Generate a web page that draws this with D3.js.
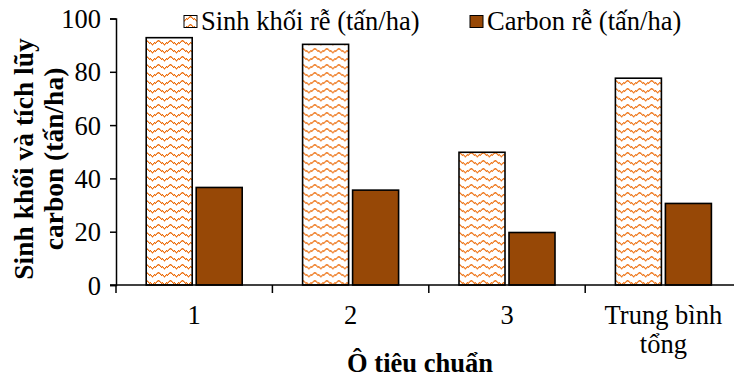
<!DOCTYPE html>
<html>
<head>
<meta charset="utf-8">
<script src="https://cdn.jsdelivr.net/npm/d3@7"></script>
<style>
  html, body { margin: 0; padding: 0; background: #fff; }
  svg { display: block; font-family: "Liberation Serif", "Times New Roman", serif; }
</style>
</head>
<body>
<svg id="chart" width="734" height="380"></svg>
<script>
// Plots (categories) and the two measured series
const categories = ["1", "2", "3", "Trung bình tổng"];
const seriesNames = ["Sinh khối rễ (tấn/ha)", "Carbon rễ (tấn/ha)"];
const biomass = [92.8, 90.3, 49.8, 77.6];
const carbon = [36.6, 35.6, 19.7, 30.6];
const yTicks = [0, 20, 40, 60, 80, 100];

const FONT = 26.5;
const svg = d3.select("#chart");
const plotLeft = 116, plotTop = 18.5, plotBottom = 285;
const step = 156.4;

const x0 = d3.scaleBand().domain(categories)
  .range([plotLeft, plotLeft + step * categories.length]).padding(0);
const x1 = d3.scaleBand().domain(seriesNames)
  .range([30.2, step - 30.2]).paddingInner(0.08).paddingOuter(0);
const y = d3.scaleLinear().domain([0, 100]).range([plotBottom, plotTop]);

// Dotted orange zig-zag fill for the biomass bars
const defs = svg.append("defs");
const pat = defs.append("pattern").attr("id", "zigzag")
  .attr("patternUnits", "userSpaceOnUse").attr("width", 12).attr("height", 8);
pat.append("rect").attr("width", 12).attr("height", 8).attr("fill", "#fff");
const zz = [];
for (let i = 0; i < 12; i++) {
  const yy = Math.floor(Math.abs(i - 6) / 1.5);
  for (let t = 0; t < 2; t++) {
    const py = (yy + t) % 8;
    zz.push({ x: i, y: py, dark: (i + py) % 2 === 0 });
  }
}
pat.selectAll("rect.px").data(zz).join("rect").attr("class", "px")
  .attr("x", d => d.x).attr("y", d => d.y).attr("width", 1).attr("height", 1)
  .attr("fill", d => d.dark ? "#EC6E0C" : "#F6B584");

const fills = ["url(#zigzag)", "#974806"];

// Bars
const groups = svg.append("g").selectAll("g")
  .data(categories.map((c, i) => ({ c, vals: [biomass[i], carbon[i]] })))
  .join("g").attr("transform", d => `translate(${x0(d.c)},0)`);
groups.selectAll("rect")
  .data(d => d.vals.map((v, k) => ({ v, k })))
  .join("rect")
  .attr("x", d => x1(seriesNames[d.k]))
  .attr("width", x1.bandwidth())
  .attr("y", d => y(d.v))
  .attr("height", d => y(0) - y(d.v))
  .attr("fill", d => fills[d.k])
  .attr("stroke", "#000").attr("stroke-width", 1.6);

// Y axis
const yAxis = svg.append("g").attr("transform", `translate(${plotLeft},0)`)
  .call(d3.axisLeft(y).tickValues(yTicks).tickSize(6).tickPadding(9));
yAxis.select(".domain").attr("stroke", "#000").attr("stroke-width", 1.5);
yAxis.selectAll(".tick line").attr("stroke-width", 1.5);
yAxis.selectAll("text").attr("font-size", FONT).attr("fill", "#000")
  .attr("font-family", "Liberation Serif").attr("dy", "0.34em");

// X axis: ticks at the band boundaries
const xAxis = svg.append("g").attr("transform", `translate(0,${plotBottom})`);
xAxis.append("line").attr("x1", plotLeft - 6).attr("x2", 734)
  .attr("stroke", "#000").attr("stroke-width", 1.5);
xAxis.selectAll("line.tk").data(categories).join("line").attr("class", "tk")
  .attr("x1", d => x0(d)).attr("x2", d => x0(d))
  .attr("y1", 0).attr("y2", 8).attr("stroke", "#000").attr("stroke-width", 1.5);
const xLabels = xAxis.selectAll("text.lab").data(categories).join("text").attr("class", "lab")
  .attr("text-anchor", "middle").attr("font-size", FONT).attr("fill", "#000")
  .attr("transform", d => `translate(${x0(d) + x0.bandwidth() / 2},39)`);
xLabels.each(function (d) {
  const t = d3.select(this);
  const lines = d === "Trung bình tổng" ? ["Trung bình", "tổng"] : [d];
  lines.forEach((l, i) => t.append("tspan").attr("x", 0).attr("y", i * 29).text(l));
});

// Axis titles
svg.append("text").attr("x", 420).attr("y", 372).attr("text-anchor", "middle")
  .attr("font-size", FONT).attr("font-weight", "bold").text("Ô tiêu chuẩn");
const yt = svg.append("text").attr("transform", "translate(0,159) rotate(-90)")
  .attr("text-anchor", "middle").attr("font-size", 27.5).attr("font-weight", "bold");
yt.append("tspan").attr("x", 0).attr("y", 33).text("Sinh khối và tích lũy");
yt.append("tspan").attr("x", 0).attr("y", 63).text("carbon (tấn/ha)");

// Legend
const legendX = [184, 470];
const leg = svg.append("g").selectAll("g").data(seriesNames).join("g")
  .attr("transform", (d, i) => `translate(${legendX[i]},0)`);
leg.append("rect").attr("x", 0).attr("y", 15.5).attr("width", 13).attr("height", 12)
  .attr("fill", (d, i) => fills[i]).attr("stroke", "#000").attr("stroke-width", 1);
leg.append("text").attr("x", 17).attr("y", 30).attr("font-size", FONT).attr("fill", "#000")
  .text(d => d);
</script>
</body>
</html>
